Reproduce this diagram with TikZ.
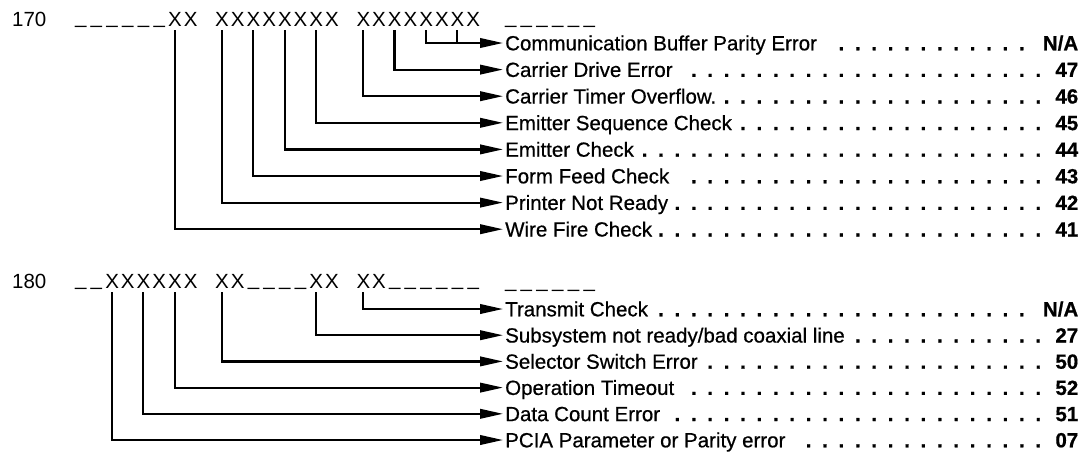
\documentclass[tikz,border=0pt]{standalone}
\usepackage{fontspec}
\setmainfont{Liberation Sans}
\newfontfamily\labfont[FakeBold=0.6]{Liberation Sans}
\usetikzlibrary{arrows.meta}
\newcommand\pc[1]{\makebox[15.7pt]{#1}}
\newcommand\us{\pc{\raisebox{2.5pt}{\_}}}
\newcommand\dotlead{\leaders\hbox to 16.4pt{\hss\textbf{.}\hss}\hfill}
\newcommand\lrow[2]{\makebox[573pt][l]{\labfont #1\dotlead\textbf{#2}}}
\newcommand\tickat[3]{\coordinate (#1) at ({72.7+15.7*(#2+0.5)},#3);}
\begin{document}
\begin{tikzpicture}[x=1pt,y=-1pt,
  every node/.style={font=\fontsize{20.5}{24}\selectfont, inner sep=0pt},
  lbl/.style={anchor=west, inner xsep=2pt, inner ysep=0pt, text height=14.6pt, text depth=0pt},
  txt/.style={anchor=base west},
  ln/.style={line width=2.2pt},
  conn/.style={line width=2.2pt, -{Triangle[length=23pt,width=9.5pt]}}]
\useasboundingbox[fill=white] (0,0) rectangle (1084,451);

% ---------- 170 ----------
\node[txt] (n170) at (12,26) {170};
\node[txt] (r170) at (72.7,26) {\us\us\us\us\us\us\pc{X}\pc{X}\pc{}\pc{X}\pc{X}\pc{X}\pc{X}\pc{X}\pc{X}\pc{X}\pc{X}\pc{}\pc{X}\pc{X}\pc{X}\pc{X}\pc{X}\pc{X}\pc{X}\pc{X}};
\node[txt] (u170) at (502.7,26) {\us\us\us\us\us\us};

\tickat{a6}{6}{30}
\tickat{a9}{9}{30}
\tickat{a11}{11}{30}
\tickat{a13}{13}{30}
\tickat{a15}{15}{30}
\tickat{a18}{18}{30}
\tickat{a20}{20}{30}
\tickat{a22}{22}{30}
\tickat{a24}{24}{30}

\node[lbl] (c1) at (503,43)    {\lrow{Communication Buffer Parity Error}{N/A}};
\node[lbl] (c2) at (503,69.6)  {\lrow{Carrier Drive Error}{47}};
\node[lbl] (c3) at (503,96.2)  {\lrow{Carrier Timer Overflow.}{46}};
\node[lbl] (c4) at (503,122.8) {\lrow{Emitter Sequence Check}{45}};
\node[lbl] (c5) at (503,149.4) {\lrow{Emitter Check}{44}};
\node[lbl] (c6) at (503,176)   {\lrow{Form Feed Check}{43}};
\node[lbl] (c7) at (503,202.6) {\lrow{Printer Not Ready}{42}};
\node[lbl] (c8) at (503,229.2) {\lrow{Wire Fire Check}{41}};

\draw[conn] (a22) |- (c1.west);
\draw[ln] (a24) -- (a24 |- c1.west);
\draw[conn] (a20) |- (c2.west);
\draw[conn] (a18) |- (c3.west);
\draw[conn] (a15) |- (c4.west);
\draw[conn] (a13) |- (c5.west);
\draw[conn] (a11) |- (c6.west);
\draw[conn] (a9)  |- (c7.west);
\draw[conn] (a6)  |- (c8.west);

% ---------- 180 ----------
\node[txt] (n180) at (12,288) {180};
\node[txt] (r180) at (72.7,288) {\us\us\pc{X}\pc{X}\pc{X}\pc{X}\pc{X}\pc{X}\pc{}\pc{X}\pc{X}\us\us\us\us\pc{X}\pc{X}\pc{}\pc{X}\pc{X}\us\us\us\us\us\us};
\node[txt] (u180) at (502.7,290) {\us\us\us\us\us\us};

\tickat{b2}{2}{292}
\tickat{b4}{4}{292}
\tickat{b6}{6}{292}
\tickat{b9}{9}{292}
\tickat{b15}{15}{292}
\tickat{b18}{18}{292}

\node[lbl] (d1) at (503,309)   {\lrow{Transmit Check}{N/A}};
\node[lbl] (d2) at (503,335.2) {\lrow{Subsystem not ready/bad coaxial line}{27}};
\node[lbl] (d3) at (503,361.4) {\lrow{Selector Switch Error}{50}};
\node[lbl] (d4) at (503,387.6) {\lrow{Operation Timeout}{52}};
\node[lbl] (d5) at (503,413.8) {\lrow{Data Count Error}{51}};
\node[lbl] (d6) at (503,440)   {\lrow{PCIA Parameter or Parity error}{07}};

\draw[conn] (b18) |- (d1.west);
\draw[conn] (b15) |- (d2.west);
\draw[conn] (b9)  |- (d3.west);
\draw[conn] (b6)  |- (d4.west);
\draw[conn] (b4)  |- (d5.west);
\draw[conn] (b2)  |- (d6.west);
\end{tikzpicture}
\end{document}
